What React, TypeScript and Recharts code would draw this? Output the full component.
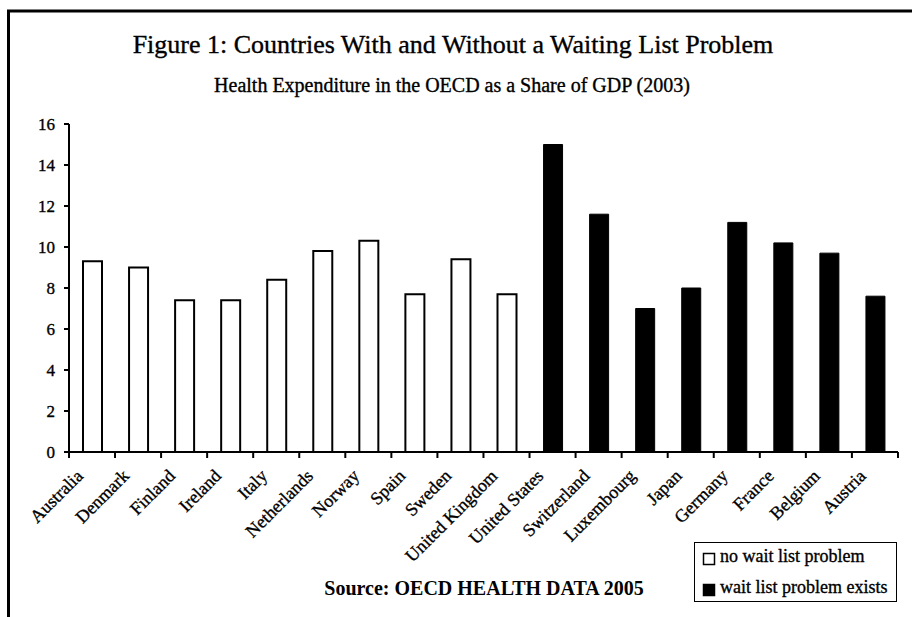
import React from 'react';
import { BarChart, Bar, XAxis, YAxis, Legend } from 'recharts';

const noWaitCountries = ['Australia', 'Denmark', 'Finland', 'Ireland', 'Italy', 'Netherlands', 'Norway', 'Spain', 'Sweden', 'United Kingdom'];
const noWaitValues = [9.3, 9.0, 7.4, 7.4, 8.4, 9.8, 10.3, 7.7, 9.4, 7.7];
const waitCountries = ['United States', 'Switzerland', 'Luxembourg', 'Japan', 'Germany', 'France', 'Belgium', 'Austria'];
const waitValues = [15.0, 11.6, 7.0, 8.0, 11.2, 10.2, 9.7, 7.6];
const yTicks = [0, 2, 4, 6, 8, 10, 12, 14, 16];
const noWaitName = 'no wait list problem';
const waitName = 'wait list problem exists';
const titleText = 'Figure 1: Countries With and Without a Waiting List Problem';
const subtitleText = 'Health Expenditure in the OECD as a Share of GDP (2003)';
const sourceText = 'Source: OECD HEALTH DATA 2005';

const data = [
  ...noWaitCountries.map((c, i) => ({ country: c, noWait: noWaitValues[i], wait: null })),
  ...waitCountries.map((c, i) => ({ country: c, noWait: null, wait: waitValues[i] })),
];

const FONT = '"Liberation Serif", "Times New Roman", serif';
const W = 912;
const H = 617;
const THICK = 0.35;

const CategoryTick = (props: any) => {
  const { x, y, payload, index } = props;
  const half = 23;
  return (
    <g>
      {index === 0 && (
        <line x1={x - half} y1={y} x2={x - half} y2={y + 6} stroke="#000" strokeWidth={2} />
      )}
      <line x1={x + half} y1={y} x2={x + half} y2={y + 6} stroke="#000" strokeWidth={2} />
      <text
        transform={`translate(${x - 8},${y + 25}) rotate(-45)`}
        textAnchor="end"
        fontFamily={FONT}
        fontSize={18}
        fill="#000"
        stroke="#000"
        strokeWidth={THICK}
      >
        {payload.value}
      </text>
    </g>
  );
};

const LegendBox = (props: any) => {
  const payload = props.payload || [];
  return (
    <svg width={203} height={60} style={{ display: 'block' }}>
      <rect x={0.5} y={0.5} width={202} height={59} fill="#fff" stroke="#000" strokeWidth={1} />
      {payload.map((p: any, i: number) => (
        <g key={i}>
          <rect x={9.5} y={11.5 + i * 31} width={11} height={11} fill={p.color} stroke="#000" strokeWidth={1.5} />
          <text x={26} y={20 + i * 31} fontFamily={FONT} fontSize={18} fill="#000" stroke="#000" strokeWidth={THICK}>
            {p.value}
          </text>
        </g>
      ))}
    </svg>
  );
};

export default function App() {
  return (
    <div style={{ position: 'absolute', left: 0, top: 0, width: W, height: H, background: '#fff' }}>
      <BarChart
        width={W}
        height={H}
        data={data}
        margin={{ top: 124, right: 14, left: 0, bottom: 65 }}
        barSize={19}
      >
        <XAxis
          dataKey="country"
          interval={0}
          height={100}
          tickSize={0}
          tickMargin={0}
          tickLine={false}
          axisLine={{ stroke: '#000', strokeWidth: 2 }}
          tick={<CategoryTick />}
        />
        <YAxis
          domain={[0, 16]}
          ticks={yTicks}
          width={69}
          tickSize={5}
          tickMargin={9}
          axisLine={{ stroke: '#000', strokeWidth: 2 }}
          tickLine={{ stroke: '#000', strokeWidth: 2 }}
          tick={{ fill: '#000', fontSize: 17, fontFamily: FONT, stroke: '#000', strokeWidth: THICK }}
        />
        <Legend
          layout="vertical"
          align="center"
          verticalAlign="middle"
          content={<LegendBox />}
          wrapperStyle={{ position: 'absolute', left: 694, top: 542, width: 203, height: 60 }}
        />
        <Bar dataKey="noWait" name={noWaitName} stackId="a" fill="#fff" stroke="#000" strokeWidth={2} isAnimationActive={false} />
        <Bar dataKey="wait" name={waitName} stackId="a" fill="#000" stroke="#000" strokeWidth={1} isAnimationActive={false} />
      </BarChart>
      <svg width={W} height={H} style={{ position: 'absolute', left: 0, top: 0, pointerEvents: 'none' }}>
        <line x1={7} y1={11} x2={W} y2={11} stroke="#000" strokeWidth={3} />
        <line x1={8.5} y1={10} x2={8.5} y2={H} stroke="#000" strokeWidth={3} />
        <text x={453} y={53} textAnchor="middle" fontFamily={FONT} fontSize={26} fill="#000" stroke="#000" strokeWidth={THICK}>
          {titleText}
        </text>
        <text x={452} y={92} textAnchor="middle" fontFamily={FONT} fontSize={20} fill="#000" stroke="#000" strokeWidth={THICK}>
          {subtitleText}
        </text>
        <text x={484} y={595} textAnchor="middle" fontFamily={FONT} fontSize={20} fontWeight="bold" fill="#000">
          {sourceText}
        </text>
      </svg>
    </div>
  );
}
